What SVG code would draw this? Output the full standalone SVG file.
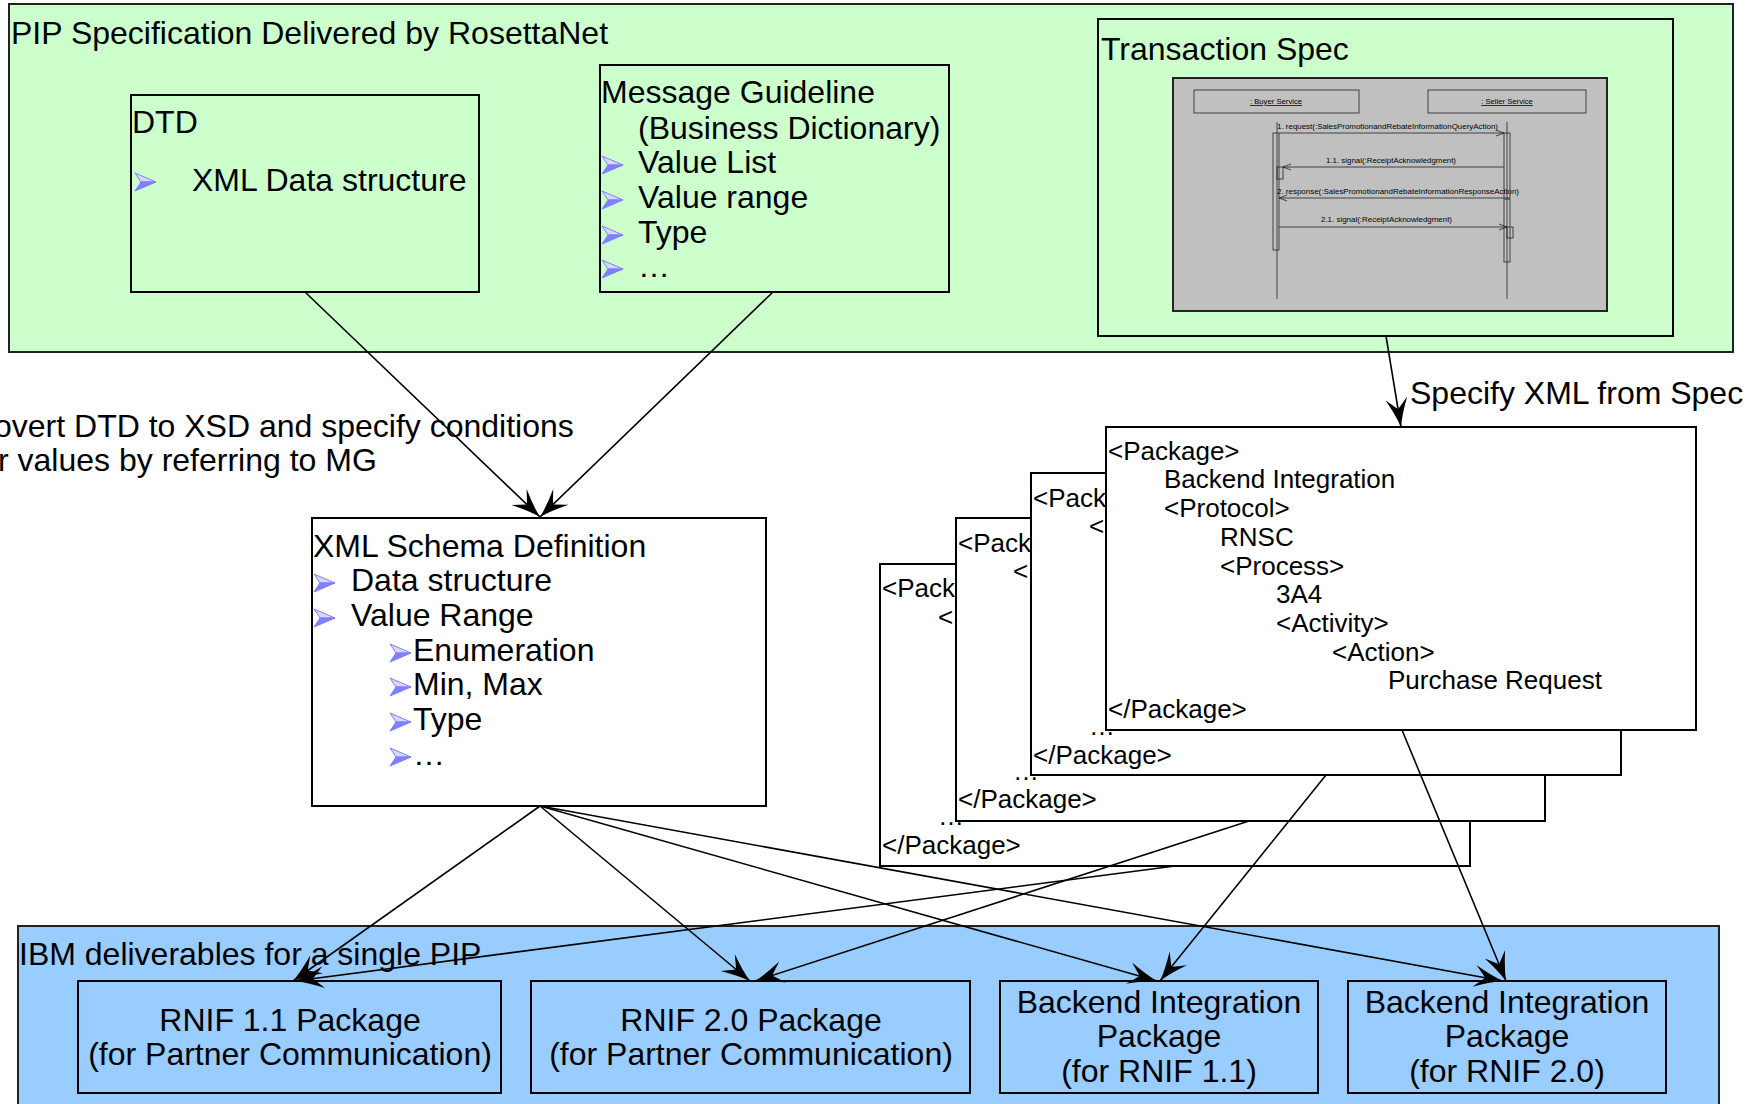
<svg xmlns="http://www.w3.org/2000/svg" xmlns:xlink="http://www.w3.org/1999/xlink" width="1754" height="1104" viewBox="0 0 1754 1104">
<style>
text{font-family:"Liberation Sans",Arial,sans-serif;fill:#000}
.t32{font-size:32px}
.t26{font-size:26px}
.mid{text-anchor:middle}
.box{stroke:#000;stroke-width:2}
.grp{stroke:#222;stroke-width:2}
.conn{stroke:#000;stroke-width:1.6;fill:none}
.seqt{font-size:7.7px}
.sl{stroke:#222;stroke-width:0.8;fill:none}
</style>
<defs>
<marker id="ah" viewBox="0 0 30 24" refX="29" refY="12" markerWidth="30" markerHeight="24" orient="auto" markerUnits="userSpaceOnUse">
<path d="M29,12 Q17,9 0,1 L11,12 L0,23 Q17,15 29,12 Z" fill="#000"/>
</marker>
<marker id="oa" viewBox="0 0 8 8" refX="8" refY="4" markerWidth="8" markerHeight="8" orient="auto" markerUnits="userSpaceOnUse">
<path d="M0,1 L8,4 L0,7" fill="none" stroke="#222" stroke-width="0.8"/>
</marker>
<g id="bul">
<path d="M0,0 L21,9 L6,9 Z" fill="#d8d8ff" stroke="#7f7fff" stroke-width="1"/>
<path d="M6,9 L21,9 L0,18 Z" fill="#7f7fff" stroke="#7f7fff" stroke-width="1"/>
</g>
</defs>

<g id="pip-spec">
<rect x="9" y="4" width="1724" height="348" fill="#ccffcc" class="grp"/>
<text class="t32" x="11" y="44">PIP Specification Delivered by RosettaNet</text>
</g>

<g id="dtd">
<rect x="131" y="95" width="348" height="197" fill="#ccffcc" class="box"/>
<text class="t32" x="132" y="133">DTD</text>
<use xlink:href="#bul" x="135" y="173"/>
<text class="t32" x="192" y="191">XML Data structure</text>
</g>

<g id="message-guideline">
<rect x="600" y="65" width="349" height="227" fill="#ccffcc" class="box"/>
<text class="t32" x="601" y="103">Message Guideline</text>
<text class="t32" x="638" y="139">(Business Dictionary)</text>
<use xlink:href="#bul" x="602" y="156"/>
<text class="t32" x="638" y="173">Value List</text>
<use xlink:href="#bul" x="602" y="191"/>
<text class="t32" x="638" y="208">Value range</text>
<use xlink:href="#bul" x="602" y="226"/>
<text class="t32" x="638" y="243">Type</text>
<use xlink:href="#bul" x="602" y="260"/>
<text class="t32" x="638" y="277">…</text>
</g>

<g id="transaction-spec">
<rect x="1098" y="19" width="575" height="317" fill="#ccffcc" class="box"/>
<text class="t32" x="1101" y="60">Transaction Spec</text>
<g id="sequence">
<rect x="1173" y="78" width="434" height="233" fill="#c0c0c0" stroke="#222" stroke-width="2"/>
<rect x="1194" y="90" width="165" height="23" class="sl"/>
<rect x="1428" y="90" width="158" height="23" class="sl"/>
<text class="seqt mid" x="1276" y="104" text-decoration="underline">: Buyer Service</text>
<text class="seqt mid" x="1507" y="104" text-decoration="underline">: Seller Service</text>
<line x1="1277" y1="122" x2="1277" y2="299" class="sl"/>
<line x1="1507" y1="122" x2="1507" y2="299" class="sl"/>
<rect x="1273" y="133" width="6" height="117" fill="#fff" class="sl"/>
<rect x="1504" y="133" width="6" height="65" fill="#fff" class="sl"/>
<rect x="1504" y="199" width="6" height="63" fill="#fff" class="sl"/>
<rect x="1277" y="167" width="6" height="12" fill="#fff" class="sl"/>
<rect x="1507" y="227" width="6" height="11" fill="#fff" class="sl"/>
<line x1="1279" y1="133" x2="1504" y2="133" class="sl" marker-end="url(#oa)"/>
<line x1="1504" y1="167" x2="1283" y2="167" class="sl" marker-end="url(#oa)"/>
<line x1="1504" y1="198" x2="1279" y2="198" class="sl" marker-end="url(#oa)"/>
<line x1="1279" y1="227" x2="1507" y2="227" class="sl" marker-end="url(#oa)"/>
<text class="seqt" x="1277" y="129" textLength="221" lengthAdjust="spacingAndGlyphs">1. request(:SalesPromotionandRebateInformationQueryAction)</text>
<text class="seqt" x="1326" y="163" textLength="130" lengthAdjust="spacingAndGlyphs">1.1. signal(:ReceiptAcknowledgment)</text>
<text class="seqt" x="1277" y="194" textLength="242" lengthAdjust="spacingAndGlyphs">2. response(:SalesPromotionandRebateInformationResponseAction)</text>
<text class="seqt" x="1321" y="222" textLength="131" lengthAdjust="spacingAndGlyphs">2.1. signal(:ReceiptAcknowledgment)</text>
</g>
</g>

<g id="convert-note">
<text class="t32" x="-6" y="437">overt DTD to XSD and specify conditions</text>
<text class="t32" x="-2" y="471">r values by referring to MG</text>
</g>

<g id="specify-note">
<text class="t32" x="1410" y="404">Specify XML from Spec</text>
</g>

<g id="xsd">
<rect x="312" y="518" width="454" height="288" fill="#fff" class="box"/>
<text class="t32" x="313" y="557">XML Schema Definition</text>
<use xlink:href="#bul" x="314" y="574"/>
<text class="t32" x="351" y="591">Data structure</text>
<use xlink:href="#bul" x="314" y="609"/>
<text class="t32" x="351" y="626">Value Range</text>
<use xlink:href="#bul" x="390" y="644"/>
<text class="t32" x="413" y="661">Enumeration</text>
<use xlink:href="#bul" x="390" y="678"/>
<text class="t32" x="413" y="695">Min, Max</text>
<use xlink:href="#bul" x="390" y="713"/>
<text class="t32" x="413" y="730">Type</text>
<use xlink:href="#bul" x="390" y="748"/>
<text class="t32" x="413" y="765">…</text>
</g>

<g id="package-4">
<rect x="880" y="564" width="590" height="302" fill="#fff" class="box"/>
<text class="t26" x="882" y="597">&lt;Pack</text>
<text class="t26" x="938" y="626">&lt;</text>
<text class="t26" x="938" y="825">…</text>
<text class="t26" x="882" y="854">&lt;/Package&gt;</text>
</g>
<g id="package-3">
<rect x="956" y="518" width="589" height="303" fill="#fff" class="box"/>
<text class="t26" x="958" y="552">&lt;Pack</text>
<text class="t26" x="1013" y="580">&lt;</text>
<text class="t26" x="1013" y="780">…</text>
<text class="t26" x="958" y="808">&lt;/Package&gt;</text>
</g>
<g id="package-2">
<rect x="1031" y="473" width="590" height="302" fill="#fff" class="box"/>
<text class="t26" x="1033" y="507">&lt;Pack</text>
<text class="t26" x="1089" y="535">&lt;</text>
<text class="t26" x="1089" y="735">…</text>
<text class="t26" x="1033" y="764">&lt;/Package&gt;</text>
</g>
<g id="package-1">
<rect x="1106" y="427" width="590" height="303" fill="#fff" class="box"/>
<text class="t26" x="1108" y="460">&lt;Package&gt;</text>
<text class="t26" x="1164" y="488">Backend Integration</text>
<text class="t26" x="1164" y="517">&lt;Protocol&gt;</text>
<text class="t26" x="1220" y="546">RNSC</text>
<text class="t26" x="1220" y="575">&lt;Process&gt;</text>
<text class="t26" x="1276" y="603">3A4</text>
<text class="t26" x="1276" y="632">&lt;Activity&gt;</text>
<text class="t26" x="1332" y="661">&lt;Action&gt;</text>
<text class="t26" x="1388" y="689">Purchase Request</text>
<text class="t26" x="1108" y="718">&lt;/Package&gt;</text>
</g>

<g id="ibm-deliverables">
<rect x="18" y="926" width="1701" height="200" fill="#99ccff" class="grp"/>
<text class="t32" x="19" y="965">IBM deliverables for a single PIP</text>
</g>
<g id="rnif11">
<rect x="78" y="981" width="423" height="112" fill="#99ccff" class="box"/>
<text class="t32 mid" x="290" y="1031">RNIF 1.1 Package</text>
<text class="t32 mid" x="290" y="1065">(for Partner Communication)</text>
</g>
<g id="rnif20">
<rect x="531" y="981" width="439" height="112" fill="#99ccff" class="box"/>
<text class="t32 mid" x="751" y="1031">RNIF 2.0 Package</text>
<text class="t32 mid" x="751" y="1065">(for Partner Communication)</text>
</g>
<g id="bi11">
<rect x="1000" y="981" width="318" height="112" fill="#99ccff" class="box"/>
<text class="t32 mid" x="1159" y="1013">Backend Integration</text>
<text class="t32 mid" x="1159" y="1047">Package</text>
<text class="t32 mid" x="1159" y="1082">(for RNIF 1.1)</text>
</g>
<g id="bi20">
<rect x="1348" y="981" width="318" height="112" fill="#99ccff" class="box"/>
<text class="t32 mid" x="1507" y="1013">Backend Integration</text>
<text class="t32 mid" x="1507" y="1047">Package</text>
<text class="t32 mid" x="1507" y="1082">(for RNIF 2.0)</text>
</g>

<g id="connectors" class="conn">
<line x1="305" y1="292" x2="540" y2="517" marker-end="url(#ah)"/>
<line x1="773" y1="292" x2="540" y2="517" marker-end="url(#ah)"/>
<line x1="1386" y1="336" x2="1401" y2="427" marker-end="url(#ah)"/>
<line x1="540" y1="806" x2="293" y2="981" marker-end="url(#ah)"/>
<line x1="540" y1="806" x2="750" y2="981" marker-end="url(#ah)"/>
<line x1="540" y1="806" x2="1157" y2="981" marker-end="url(#ah)"/>
<line x1="540" y1="806" x2="1503" y2="981" marker-end="url(#ah)"/>
<line x1="1175" y1="866" x2="295" y2="981" marker-end="url(#ah)"/>
<line x1="1249" y1="821" x2="755" y2="981" marker-end="url(#ah)"/>
<line x1="1326" y1="775" x2="1160" y2="981" marker-end="url(#ah)"/>
<line x1="1402" y1="730" x2="1506" y2="981" marker-end="url(#ah)"/>
</g>
</svg>
